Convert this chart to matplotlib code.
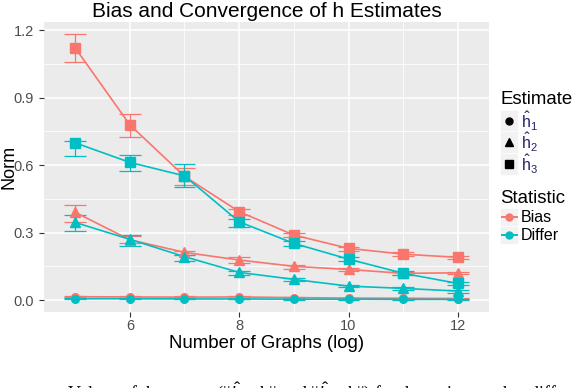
import matplotlib
matplotlib.use("Agg")
import matplotlib.pyplot as plt
from matplotlib.patches import Rectangle

plt.rcParams["font.family"] = ["Liberation Sans", "DejaVu Sans"]
plt.rcParams["mathtext.fontset"] = "custom"
plt.rcParams["mathtext.rm"] = "Liberation Sans"
plt.rcParams["mathtext.it"] = "Liberation Sans:italic"

# number of graphs (log scale), same for every series
n_graphs = [5, 6, 7, 8, 9, 10, 11, 12]

# Bias statistic
bias_h1 = [0.015, 0.014, 0.013, 0.014, 0.011, 0.009, 0.008, 0.007]
bias_h1_lo = [0.012, 0.011, 0.010, 0.011, 0.008, 0.007, 0.006, 0.005]
bias_h1_hi = [0.018, 0.017, 0.016, 0.017, 0.014, 0.011, 0.010, 0.009]
bias_h2 = [0.390, 0.268, 0.212, 0.178, 0.150, 0.136, 0.119, 0.121]
bias_h2_lo = [0.347, 0.252, 0.200, 0.165, 0.140, 0.128, 0.113, 0.115]
bias_h2_hi = [0.421, 0.285, 0.218, 0.190, 0.157, 0.142, 0.125, 0.127]
bias_h3 = [1.121, 0.779, 0.550, 0.393, 0.289, 0.230, 0.204, 0.190]
bias_h3_lo = [1.058, 0.724, 0.513, 0.380, 0.280, 0.219, 0.195, 0.184]
bias_h3_hi = [1.182, 0.828, 0.585, 0.405, 0.300, 0.237, 0.213, 0.196]

# Differ statistic
differ_h1 = [0.006, 0.006, 0.005, 0.005, 0.004, 0.004, 0.003, 0.003]
differ_h1_lo = [0.004, 0.004, 0.003, 0.003, 0.002, 0.002, 0.001, 0.001]
differ_h1_hi = [0.008, 0.008, 0.007, 0.007, 0.006, 0.006, 0.005, 0.005]
differ_h2 = [0.345, 0.270, 0.193, 0.123, 0.092, 0.062, 0.052, 0.040]
differ_h2_lo = [0.307, 0.240, 0.175, 0.111, 0.085, 0.056, 0.045, 0.032]
differ_h2_hi = [0.376, 0.290, 0.200, 0.129, 0.100, 0.068, 0.057, 0.045]
differ_h3 = [0.699, 0.612, 0.552, 0.348, 0.252, 0.182, 0.119, 0.074]
differ_h3_lo = [0.640, 0.572, 0.501, 0.323, 0.240, 0.172, 0.110, 0.068]
differ_h3_hi = [0.705, 0.647, 0.603, 0.360, 0.262, 0.190, 0.128, 0.080]

estimate_labels = [r"$\hat{\mathrm{h}}_1$", r"$\hat{\mathrm{h}}_2$", r"$\hat{\mathrm{h}}_3$"]
statistic_labels = ["Bias", "Differ"]

y_ticks = [0.0, 0.3, 0.6, 0.9, 1.2]
y_tick_labels = ["0.0", "0.3", "0.6", "0.9", "1.2"]
x_ticks = [6, 8, 10, 12]

RED = "#F8766D"
CYAN = "#00BFC4"
markers = ["o", "^", "s"]
marker_sizes = [5.5, 6.5, 6.5]

series = [
    (RED, 0, bias_h1, bias_h1_lo, bias_h1_hi),
    (CYAN, 0, differ_h1, differ_h1_lo, differ_h1_hi),
    (RED, 1, bias_h2, bias_h2_lo, bias_h2_hi),
    (CYAN, 1, differ_h2, differ_h2_lo, differ_h2_hi),
    (RED, 2, bias_h3, bias_h3_lo, bias_h3_hi),
    (CYAN, 2, differ_h3, differ_h3_lo, differ_h3_hi),
]

W, H = 576, 388
fig = plt.figure(figsize=(W / 100, H / 100), dpi=100)
ax = fig.add_axes([44 / W, 1 - 312 / H, 445 / W, 290 / H])
ax.set_facecolor("#EBEBEB")
for s in ax.spines.values():
    s.set_visible(False)

# error bars first, then lines, then points (ggplot layer order)
for color, k, mean, lo, hi in series:
    ax.errorbar(n_graphs, mean,
                yerr=[[m - l for m, l in zip(mean, lo)], [h - m for m, h in zip(mean, hi)]],
                fmt="none", ecolor=color, elinewidth=0.9, capsize=0, zorder=2)
    ax.hlines(lo, [x - 0.2 for x in n_graphs], [x + 0.2 for x in n_graphs],
              color=color, lw=0.9, zorder=2)
    ax.hlines(hi, [x - 0.2 for x in n_graphs], [x + 0.2 for x in n_graphs],
              color=color, lw=0.9, zorder=2)
for color, k, mean, lo, hi in series:
    ax.plot(n_graphs, mean, color=color, lw=1.2, zorder=3)
for color, k, mean, lo, hi in series:
    ax.plot(n_graphs, mean, ls="none", marker=markers[k], ms=marker_sizes[k],
            color=color, mec=color, zorder=4)

ax.set_xlim(4.43, 12.57)
ax.set_ylim(-0.053, 1.236)
ax.set_xticks(x_ticks)
ax.set_xticks([7, 9, 11], minor=True)
ax.set_yticks(y_ticks)
ax.set_yticklabels(y_tick_labels)
ax.set_yticks([0.15, 0.45, 0.75, 1.05], minor=True)
ax.grid(True, which="major", color="white", lw=1.1)
ax.grid(True, which="minor", color="white", lw=0.55)
ax.set_axisbelow(True)
ax.tick_params(which="major", length=3.8, width=0.8, color="#333333",
               labelsize=10.5, labelcolor="#4D4D4D")
ax.tick_params(axis="x", which="major", pad=1.5)
ax.tick_params(axis="y", which="major", pad=3.5)
ax.tick_params(which="minor", length=0)

fig.text(266.5 / W, 1 - 17 / H, "Bias and Convergence of h Estimates",
         ha="center", va="baseline", fontsize=15)
fig.text(266.5 / W, 1 - 348 / H, "Number of Graphs (log)",
         ha="center", va="baseline", fontsize=13.4)
fig.text(0.5 / W, 1 - 167 / H, "Norm", rotation=90,
         ha="left", va="center", fontsize=13)

# caption of the source figure, cut off by the image edge
fig.text(67 / W, 1 - 399 / H,
         r"Values of the norms (||$\hat{h}$ $-$ h|| and ||$\hat{h}$ $-$ h||) for the estimates that differ",
         ha="left", va="baseline", fontsize=13, family="Liberation Serif")

# legends drawn in pixel coordinates
lg = fig.add_axes([0, 0, 1, 1], facecolor="none")
lg.set_xlim(0, W)
lg.set_ylim(H, 0)
lg.axis("off")

lg.text(500, 104, "Estimate", ha="left", va="baseline", fontsize=13.4)
key_tops = [110, 131, 153]
for k, top in enumerate(key_tops):
    lg.add_patch(Rectangle((500, top), 18, 21.5, facecolor="#F2F2F2", edgecolor="white", lw=0.5))
    lg.plot([509], [top + 10.5], marker=markers[k], ms=marker_sizes[k] - 0.5,
            color="black", ls="none")
    lg.text(521, top + 11, estimate_labels[k], ha="left", va="center",
            fontsize=11.5, color="#22226A")

lg.text(500, 203, "Statistic", ha="left", va="baseline", fontsize=13.4)
for k, (top, color) in enumerate(zip([208, 226], [RED, CYAN])):
    lg.add_patch(Rectangle((500, top), 18, 17.5, facecolor="#F2F2F2", edgecolor="white", lw=0.5))
    lg.plot([501.5, 516.5], [top + 8.75, top + 8.75], color=color, lw=1.4)
    lg.plot([509], [top + 8.75], marker="o", ms=5, color=color, ls="none")
    lg.text(521, top + 9, statistic_labels[k], ha="left", va="center", fontsize=11.5)

fig.savefig("out.png", dpi=100)
